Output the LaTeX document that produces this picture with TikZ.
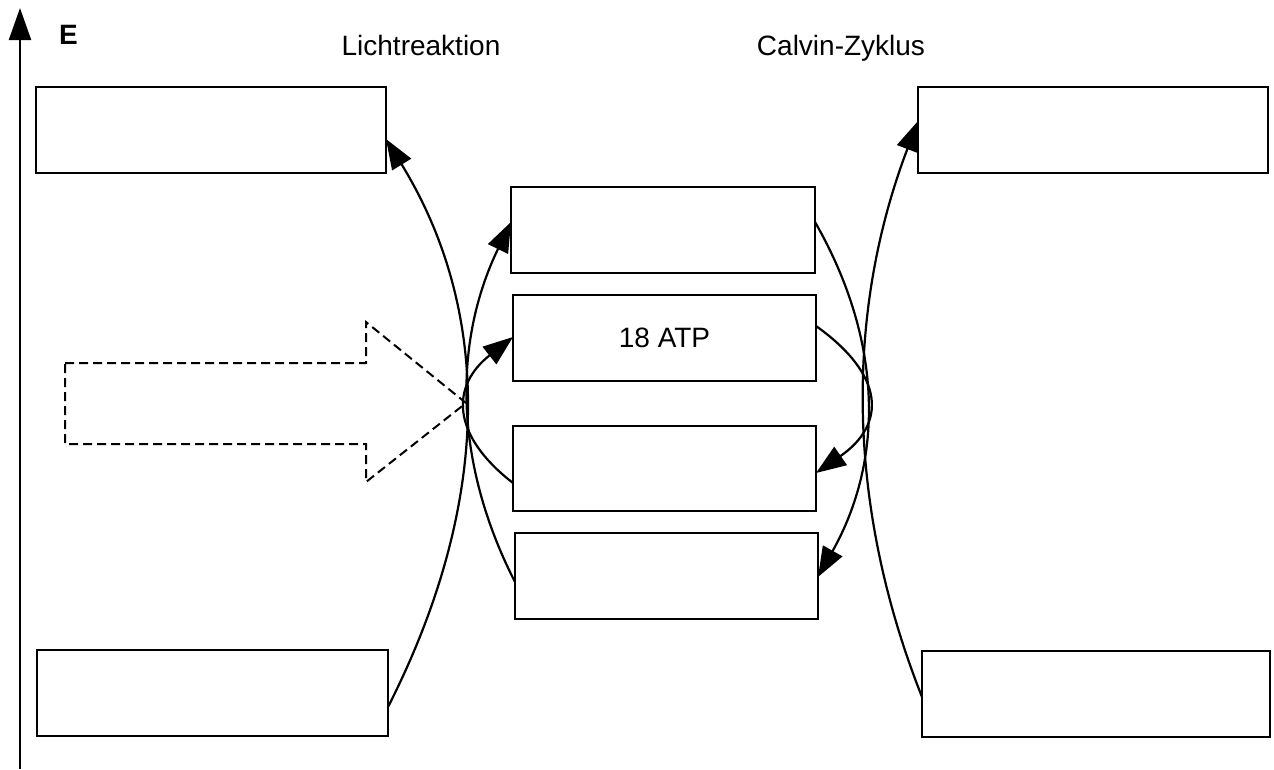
\documentclass[tikz,border=0pt]{standalone}
\usepackage{fontspec}
\setmainfont{Liberation Sans}
\usetikzlibrary{arrows.meta}
\begin{document}
\begin{tikzpicture}[x=1pt,y=-1pt,
  box/.style={draw, line width=2.2pt, inner sep=0pt, outer sep=0pt, minimum height=86pt,
    font=\fontsize{28}{32}\selectfont},
  conn/.style={line width=2.2pt, -{Triangle[length=30pt,width=22pt]}},
  lbl/.style={inner sep=0pt, anchor=base, font=\fontsize{28}{32}\selectfont},
  dasharrow/.style={line width=2pt, dash pattern=on 9pt off 5pt}]
\useasboundingbox (0,0) rectangle (1274,769);
% energy axis
\coordinate (axb) at (20,769);
\coordinate (axt) at (20,8);
\draw[line width=2.2pt, -{Triangle[length=32pt,width=22pt]}] (axb) -- (axt);
\node[lbl, font=\fontsize{28}{32}\selectfont\bfseries] (e) at (68.5,44) {E};
\node[lbl] (lr) at (421,55) {Lichtreaktion};
\node[lbl] (cz) at (841,55) {Calvin-Zyklus};
% boxes
\node[box, minimum width=350pt] (tl) at (211,130) {};
\node[box, minimum width=350pt] (tr) at (1093,130) {};
\node[box, minimum width=351pt] (bl) at (212.5,693) {};
\node[box, minimum width=348pt] (br) at (1096,694) {};
\node[box, minimum width=304pt] (m1) at (663,230) {};
\node[box, minimum width=303pt] (m2) at (664.5,338) {18 ATP};
\node[box, minimum width=303pt, minimum height=85pt] (m3) at (664.5,468.5) {};
\node[box, minimum width=303pt] (m4) at (666.5,576) {};
% dashed arrow (light)
\draw[dasharrow] (65,363) -- (366,363) -- (366,322) -- (466,403) -- (366,482) -- (366,444) -- (65,444) -- cycle;
% connectors left
\draw[conn] ([yshift=-14pt]bl.east) .. controls (493,500.3) and (491.7,311) .. ([yshift=-9pt]tl.east);
\draw[conn] ([yshift=-6pt]m4.west) .. controls (453.7,462) and (453,342) .. ([yshift=8pt]m1.west);
\draw[conn] ([yshift=-14.5pt]m3.west) .. controls (450.3,434.3) and (451,385.7) .. ([yshift=1pt]m2.west);
% connectors right
\draw[conn] ([yshift=8pt]m1.east) .. controls (883,340.7) and (884.3,459) .. ([yshift=-1pt]m4.east);
\draw[conn] ([yshift=12pt]m2.east) .. controls (885.3,375.3) and (886.3,424.3) .. ([yshift=-4.5pt]m3.east);
\draw[conn] ([yshift=-3pt]br.west) .. controls (846,505) and (845,313) .. ([yshift=9pt]tr.west);
\end{tikzpicture}
\end{document}
